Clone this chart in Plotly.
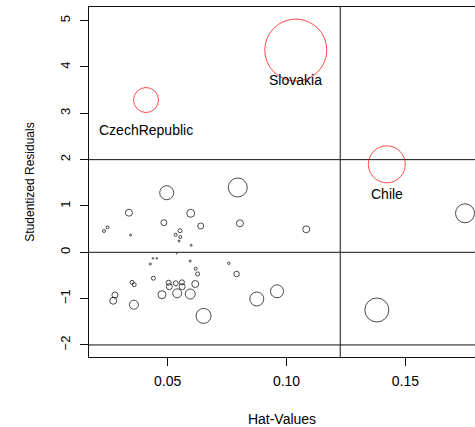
import plotly.graph_objects as go

# Ordinary observations: hat-values, studentized residuals, bubble diameter (px)
hat = [0.0496, 0.0795, 0.0337, 0.0597, 0.0484, 0.0639, 0.0804, 0.0232, 0.0247, 0.0344,
       0.0552, 0.0534, 0.0553, 0.0548, 0.0599, 0.0538, 0.0438, 0.0454, 0.0427, 0.0595,
       0.0757, 0.0618, 0.0626, 0.0790, 0.0440, 0.0350, 0.0359, 0.0504, 0.0534, 0.0560,
       0.0507, 0.0561, 0.0616, 0.0278, 0.0271, 0.0358, 0.0476, 0.0540, 0.0595, 0.0651,
       0.0875, 0.0960, 0.1380, 0.1083, 0.1751]
rstud = [1.286, 1.399, 0.855, 0.842, 0.639, 0.568, 0.626, 0.460, 0.540, 0.373,
         0.466, 0.380, 0.330, 0.244, 0.151, -0.030, -0.130, -0.130, -0.253, -0.188,
         -0.237, -0.354, -0.468, -0.468, -0.559, -0.648, -0.699, -0.656, -0.669, -0.648,
         -0.742, -0.742, -0.684, -0.922, -1.045, -1.131, -0.915, -0.885, -0.900, -1.373,
         -1.008, -0.842, -1.245, 0.496, 0.842]
diam = [15, 20, 8, 9, 7, 7, 8, 4, 4, 3,
        5, 4, 4, 3, 2, 0.8, 1.5, 1.5, 2, 2,
        3.5, 4, 5, 6.5, 5, 5, 5, 6, 6, 6,
        7, 7, 8, 7, 8, 10, 9, 10, 11, 16,
        15, 14, 25, 8, 20]

# Influential (labelled) observations
lab_names = ["Slovakia", "CzechRepublic", "Chile"]
lab_hat = [0.1039, 0.0409, 0.1422]
lab_rstud = [4.366, 3.287, 1.899]
lab_diam = [63, 26, 38]

# Reference lines
hline_vals = [-2, 0, 2]
vline_vals = [0.1226]

xticks = [0.05, 0.10, 0.15]
xticklabels = ["0.05", "0.10", "0.15"]
yticks = [-2, -1, 0, 1, 2, 3, 4, 5]
yticklabels = ["\u22122", "\u22121", "0", "1", "2", "3", "4", "5"]

FONT = "Liberation Sans, Arial, Helvetica, sans-serif"

fig = go.Figure()
fig.add_trace(go.Scatter(
    x=hat, y=rstud, mode="markers",
    marker=dict(symbol="circle-open", size=[d - 1 if d > 2 else d for d in diam],
                color="black", line=dict(width=1, color="black")),
    showlegend=False, hoverinfo="x+y"))
fig.add_trace(go.Scatter(
    x=lab_hat, y=lab_rstud, mode="markers",
    marker=dict(symbol="circle-open", size=[d - 1 for d in lab_diam],
                color="red", line=dict(width=1, color="red")),
    text=lab_names, showlegend=False, hoverinfo="text+x+y"))

for n, xv, yv in zip(lab_names, lab_hat, lab_rstud):
    fig.add_annotation(x=xv, y=yv, text=n, showarrow=False, yshift=-30,
                       font=dict(family=FONT, size=14, color="black"))

for h in hline_vals:
    fig.add_shape(type="line", xref="paper", x0=0, x1=1, yref="y", y0=h, y1=h,
                  line=dict(color="#111", width=1), layer="below")
for v in vline_vals:
    fig.add_shape(type="line", yref="paper", y0=0, y1=1, xref="x", x0=v, x1=v,
                  line=dict(color="#111", width=1), layer="below")

fig.update_layout(
    width=475, height=427,
    margin=dict(l=89, r=0, t=7, b=70),
    plot_bgcolor="white", paper_bgcolor="white",
    font=dict(family=FONT, color="black"),
    xaxis=dict(range=[0.0169, 0.1793], tickvals=xticks, ticktext=xticklabels,
               ticks="outside", ticklen=8, tickcolor="#111", tickwidth=1,
               showline=True, linecolor="#111", linewidth=1, mirror=True,
               showgrid=False, zeroline=False, ticklabelstandoff=3,
               tickfont=dict(size=14, family=FONT),
               title=dict(text="Hat-Values", font=dict(size=14, family=FONT), standoff=26)),
    yaxis=dict(range=[-2.26, 5.295], tickvals=yticks, ticktext=yticklabels,
               ticks="outside", ticklen=8, tickcolor="#111", tickwidth=1,
               showline=True, linecolor="#111", linewidth=1, mirror=False,
               showgrid=False, zeroline=False, tickangle=-90, ticklabelstandoff=5,
               tickfont=dict(size=13, family=FONT),
               title=dict(text="Studentized Residuals", font=dict(size=12, family=FONT), standoff=20)),
)

fig.write_html("out.html")
